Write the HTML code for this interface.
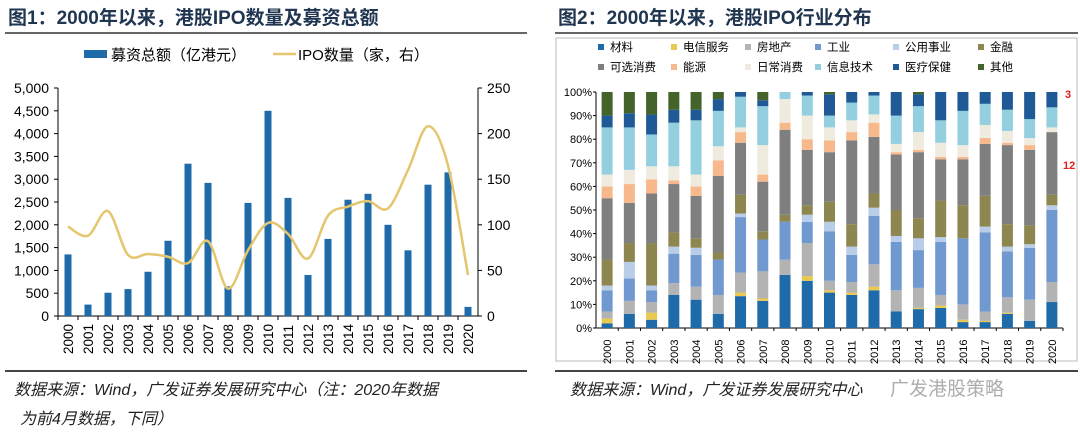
<!DOCTYPE html>
<html><head><meta charset="utf-8">
<style>
body{margin:0;width:1080px;height:437px;background:#fff;overflow:hidden;font-family:"Liberation Sans","Noto Sans CJK SC",sans-serif;}
svg{position:absolute;left:0;top:0}
</style></head>
<body>
<svg id="s" width="1080" height="437">
<text x="8" y="24" font-size="19" font-weight="bold" fill="#1f3550">图1：2000年以来，港股IPO数量及募资总额</text>
<line x1="5" y1="33" x2="527" y2="33" stroke="#333" stroke-width="1.5"/>
<text x="558" y="24" font-size="19" font-weight="bold" fill="#1f3550">图2：2000年以来，港股IPO行业分布</text>
<line x1="555" y1="33" x2="1078" y2="33" stroke="#333" stroke-width="1.5"/>
<rect x="556" y="38" width="521" height="323" fill="none" stroke="#bbb"/>
<line x1="5" y1="371" x2="527" y2="371" stroke="#444" stroke-width="2"/>
<line x1="555" y1="371" x2="1078" y2="371" stroke="#444" stroke-width="2"/>
<text x="14" y="395" font-size="16" font-style="italic" fill="#222">数据来源：Wind，广发证券发展研究中心（注：2020年数据</text>
<text x="20" y="424" font-size="16" font-style="italic" fill="#222">为前4月数据，下同）</text>
<text x="570" y="395" font-size="16" font-style="italic" fill="#222">数据来源：Wind，广发证券发展研究中心</text>
<text x="890" y="395" font-size="19" fill="#999" opacity="0.8">广发港股策略</text>
<g id="left"></g><g id="right"></g>
</svg>
<script>
const years=["2000","2001","2002","2003","2004","2005","2006","2007","2008","2009","2010","2011","2012","2013","2014","2015","2016","2017","2018","2019","2020"];
const fundsRaised=[1350,250,510,590,970,1650,3340,2920,650,2480,4500,2590,900,1690,2550,2680,2000,1440,2880,3150,200];
const ipoCount=[98,88,115,67,68,65,58,82,30,72,102,90,63,110,120,126,118,160,208,165,45];
const leftTicks=[0,500,1000,1500,2000,2500,3000,3500,4000,4500,5000];
const rightTicks=[0,50,100,150,200,250];
const categories=["材料","电信服务","房地产","工业","公用事业","金融","可选消费","能源","日常消费","信息技术","医疗保健","其他"];
const catColors=["#1f6aa8","#e9c94f","#b3b3b3","#7099d0","#b9cde9","#8e8650","#7f7f7f","#f7b98c","#f0ebdf","#94cfe0","#1f5a96","#43632a"];
// cumulative share (top of each category segment), %
const c材料=[2,6,3.5,14,12,6,13.5,11.5,22.5,20,15,14,16,7,8,8.5,2.5,2.5,6,3,11];
const c电信服务=[4,6,6.5,14,12,6,15,12.5,22.5,22,16,15,17.5,7,8.5,9.5,3.5,3,6.5,3,11];
const c房地产=[7,11.5,11,19,17.5,14,23.5,24,29,36,20,19.5,27,16,17,14,10,7,13,12,19.5];
const c工业=[16,21,16,31.5,31,29,47,37.5,45,45,41,31,47.5,36.5,33,36.5,38,40.5,32.5,34,50];
const c公用事业=[18,28,18,34.5,34,29,48.5,37.5,45,48,45,34.5,51,39,38,38.5,38,43,34.5,35.5,52];
const c金融=[29,36,36,40.5,38,32,56.5,41,48,52,53.5,44,57,50,46.5,54,52,56,44,43.5,56.5];
const c可选消费=[55,53,57,61,56,64.5,78.5,62,84,75.5,74.5,79.5,81,73.5,74.5,71.5,71.5,78,77.5,75.5,83];
const c能源=[60,61,63,62.5,60,71,83,65,87,80,79.5,83,87,74.5,75.5,72.5,72.5,80.5,78.5,77.5,83];
const c日常消费=[65,67,68.5,68.5,65,77,85,77.5,97,90,85,88,90.5,78,83,78.5,77.5,86,83.5,80.5,85];
const c信息技术=[85,85,82,87,88,92,98,94,100,98.5,90,95.5,98.5,90,94,88,92,95,92.5,88.5,93.5];
const c医疗保健=[90,91,90.5,92.5,92.5,97,100,96.5,100,100,99,100,100,100,99,100,100,100,100,100,100];
const c其他=[100,100,100,100,100,100,100,100,100,100,100,100,100,100,100,100,100,100,100,100,100];
const cumSeries=[c材料,c电信服务,c房地产,c工业,c公用事业,c金融,c可选消费,c能源,c日常消费,c信息技术,c医疗保健,c其他];
const pctTicks=[0,10,20,30,40,50,60,70,80,90,100];
const NS="http://www.w3.org/2000/svg";
function mk(p,t,a,txt){const e=document.createElementNS(NS,t);for(const k in a)e.setAttribute(k,a[k]);if(txt!==undefined)e.textContent=txt;p.appendChild(e);return e;}
// LEFT CHART
const L=document.getElementById('left');
const lx0=58,lx1=478,ly0=316,ly1=88;
const step=(lx1-lx0)/21;
const xL=i=>lx0+step*(i+0.5);
const yL=v=>ly0-(v/5000)*(ly0-ly1);
const yR=v=>ly0-(v/250)*(ly0-ly1);
let e=mk(L,'line',{x1:lx0,y1:ly1,x2:lx0,y2:ly0,stroke:'#000'});


e=mk(L,'line',{x1:lx1,y1:ly1,x2:lx1,y2:ly0,stroke:'#000'});


e=mk(L,'line',{x1:lx0,y1:ly0,x2:lx1,y2:ly0,stroke:'#000'});


leftTicks.forEach(v=>{mk(L,'line',{x1:lx0-4,y1:yL(v),x2:lx0,y2:yL(v),stroke:'#000'});
e=mk(L,'text',{x:lx0-9,y:yL(v)+5,'font-size':14,'text-anchor':'end',fill:'#000'},v.toLocaleString('en-US'));

});
rightTicks.forEach(v=>{mk(L,'line',{x1:lx1,y1:yR(v),x2:lx1+4,y2:yR(v),stroke:'#000'});
e=mk(L,'text',{x:lx1+9,y:yR(v)+5,'font-size':14,fill:'#000'},v);

});
years.forEach((y,i)=>{mk(L,'line',{x1:lx0+step*i,y1:ly0,x2:lx0+step*i,y2:ly0+4,stroke:'#000'});
e=mk(L,'rect',{x:xL(i)-3.5,y:yL(fundsRaised[i]),width:7,height:ly0-yL(fundsRaised[i]),fill:'#1f6aa8'});


e=mk(L,'text',{transform:`translate(${xL(i)+5},${ly0+38}) rotate(-90)`,'font-size':13.5,fill:'#000'},y);

});
const pts=ipoCount.map((v,i)=>[xL(i),yR(v)]);
let d=`M${pts[0][0]},${pts[0][1]}`;
for(let i=0;i<pts.length-1;i++){const p0=pts[Math.max(0,i-1)],p1=pts[i],p2=pts[i+1],p3=pts[Math.min(pts.length-1,i+2)];
d+=` C${p1[0]+(p2[0]-p0[0])/6},${p1[1]+(p2[1]-p0[1])/6} ${p2[0]-(p3[0]-p1[0])/6},${p2[1]-(p3[1]-p1[1])/6} ${p2[0]},${p2[1]}`;}
e=mk(L,'path',{d:d,fill:'none',stroke:'#e3c66e','stroke-width':2.5});


e=mk(L,'rect',{x:84,y:50,width:23,height:8,fill:'#1f6aa8'});


e=mk(L,'text',{x:111,y:60,'font-size':15,fill:'#000'},'募资总额（亿港元）');


e=mk(L,'line',{x1:273,y1:54,x2:296,y2:54,stroke:'#e3c66e','stroke-width':2.5});


e=mk(L,'text',{x:298,y:60,'font-size':15,fill:'#000'},'IPO数量（家，右）');


// RIGHT CHART
const R=document.getElementById('right');
const rx0=596,rx1=1063,ry0=328,ry1=92;
const rstep=(rx1-rx0)/21;
const xr=i=>rx0+rstep*(i+0.5);
const yp=v=>ry0-(v/100)*(ry0-ry1);
e=mk(R,'line',{x1:rx0,y1:ry1,x2:rx0,y2:ry0,stroke:'#000'});


e=mk(R,'line',{x1:rx0,y1:ry0,x2:rx1,y2:ry0,stroke:'#000'});


pctTicks.forEach(v=>{mk(R,'line',{x1:rx0-3,y1:yp(v),x2:rx0,y2:yp(v),stroke:'#000'});
e=mk(R,'text',{x:rx0-4,y:yp(v)+4,'font-size':11,'text-anchor':'end',fill:'#000'},v+'%');

});
years.forEach((y,i)=>{mk(R,'line',{x1:rx0+rstep*(i+1),y1:ry0,x2:rx0+rstep*(i+1),y2:ry0+3,stroke:'#000'});
let prev=0;
cumSeries.forEach((s,k)=>{const top=Math.max(prev,s[i]);
if(top>prev){e=mk(R,'rect',{x:xr(i)-5.5,y:yp(top),width:11,height:yp(prev)-yp(top),fill:catColors[k]});

}
prev=top;});
e=mk(R,'text',{transform:`translate(${xr(i)+4},${ry0+36}) rotate(-90)`,'font-size':11,fill:'#000'},y);

});
const lgx=[598,671,745,815,893,978];
categories.forEach((c,k)=>{const lx=lgx[k%6],ly=k<6?48:68;
e=mk(R,'rect',{x:lx,y:ly-4,width:6,height:6,fill:catColors[k]});


e=mk(R,'text',{x:lx+12,y:ly+3,'font-size':11.5,fill:'#000'},c);

});
e=mk(R,'text',{x:1065,y:98,'font-size':11,'font-weight':'bold',fill:'#e32020'},'3');


e=mk(R,'text',{x:1063,y:169,'font-size':11,'font-weight':'bold',fill:'#e32020'},'12');


</script>
</body></html>
